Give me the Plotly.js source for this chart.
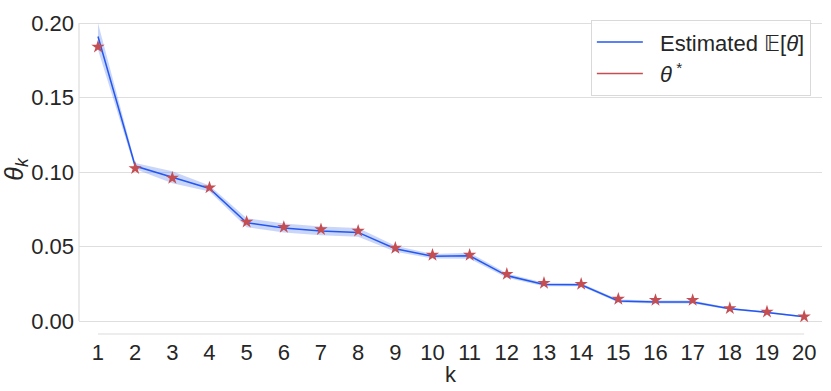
<!DOCTYPE html>
<html>
<head>
<meta charset="utf-8">
<script src="https://cdn.plot.ly/plotly-3.0.1.min.js"></script>
<style>
  html, body { margin: 0; padding: 0; background: #fff; }
  #grafico { width: 831px; height: 391px; }
</style>
</head>
<body>
<div id="grafico"></div>
<script>
// --- dados ---
const ks = [1, 2, 3, 4, 5, 6, 7, 8, 9, 10, 11, 12, 13, 14, 15, 16, 17, 18, 19, 20];
const mediaEstimada = [0.191, 0.104, 0.0965, 0.089, 0.066, 0.0625, 0.0605, 0.0595, 0.0485, 0.0435,
  0.0438, 0.0305, 0.0245, 0.0243, 0.0135, 0.0128, 0.0128, 0.0082, 0.0058, 0.0028];
const limiteInferior = [0.182, 0.102, 0.0925, 0.087, 0.063, 0.0595, 0.0575, 0.0565, 0.0465, 0.042,
  0.0418, 0.029, 0.0233, 0.0233, 0.0125, 0.0118, 0.0118, 0.0075, 0.0052, 0.0023];
const limiteSuperior = [0.200, 0.106, 0.1005, 0.091, 0.069, 0.0655, 0.0635, 0.0625, 0.0505, 0.045,
  0.0458, 0.032, 0.0257, 0.0253, 0.0145, 0.0138, 0.0138, 0.0089, 0.0064, 0.0033];
const thetaVerdadeiro = [0.184, 0.1025, 0.096, 0.0895, 0.0665, 0.063, 0.0615, 0.0605, 0.049, 0.0443,
  0.0443, 0.0315, 0.0255, 0.0248, 0.0148, 0.014, 0.014, 0.0085, 0.0062, 0.003];
const yTicks = [0, 0.05, 0.1, 0.15, 0.2];
const yTickText = ["0.00", "0.05", "0.10", "0.15", "0.20"];

const azul = "#2457f0";
const vermelho = "#c44e52";
const fonte = "'Liberation Sans', Arial, sans-serif";

const traceInferior = {
  x: ks, y: limiteInferior, type: "scatter", mode: "lines",
  line: { width: 0 }, showlegend: false, hoverinfo: "skip",
};

const traceSuperior = {
  x: ks, y: limiteSuperior, type: "scatter", mode: "lines",
  line: { width: 0 }, fill: "tonexty", fillcolor: "rgba(90, 130, 240, 0.33)",
  showlegend: false, hoverinfo: "skip",
};

const traceMedia = {
  x: ks, y: mediaEstimada, type: "scatter", mode: "lines",
  name: "  Estimated 𝔼[<i>θ</i>]",
  line: { color: azul, width: 1.5 },
};

const traceEstrelas = {
  x: ks, y: thetaVerdadeiro, type: "scatter", mode: "markers",
  marker: { symbol: "star", size: 10, color: vermelho, line: { width: 0 } },
  showlegend: false,
};

// entrada da legenda (linha vermelha)
const traceLegendaTheta = {
  x: [null], y: [null], type: "scatter", mode: "lines",
  name: "  <i>θ</i><sup> *</sup>",
  line: { color: vermelho, width: 1.5 },
};

const layout = {
  width: 831,
  height: 391,
  paper_bgcolor: "#fff",
  plot_bgcolor: "#fff",
  font: { family: fonte, color: "#262626", size: 22 },
  margin: { l: 79, r: 9, t: 5, b: 57 },
  showlegend: true,
  xaxis: {
    range: [0.489, 20.48],
    tickvals: ks,
    ticktext: ks.map(String),
    showgrid: false,
    zeroline: false,
    showline: false,
    ticks: "",
    ticklabelstandoff: 3,
    tickfont: { size: 22, color: "#262626" },
    title: { text: "k", font: { size: 22, color: "#262626" }, standoff: 2 },
  },
  yaxis: {
    range: [-0.0087, 0.2121],
    tickvals: yTicks,
    ticktext: yTickText,
    showgrid: true,
    gridcolor: "#dedede",
    gridwidth: 1,
    zeroline: false,
    showline: false,
    ticks: "",
    ticklabelstandoff: 4,
    tickfont: { size: 22, color: "#262626" },
    title: { text: "<i>θ</i><sub><i>k</i></sub>", font: { size: 25, color: "#262626" }, standoff: 2 },
  },
  shapes: [
    // eixos deslocados (estilo despine)
    { type: "line", xref: "paper", yref: "y", x0: 0, x1: 0, y0: 0, y1: 0.2,
      line: { color: "#dcdcdc", width: 1.2 } },
    { type: "line", xref: "x", yref: "paper", x0: 1, x1: 20, y0: 0, y1: 0,
      line: { color: "#dcdcdc", width: 1.2 } },
  ],
  legend: {
    x: 0.985, xanchor: "right",
    y: 0.954, yanchor: "top",
    traceorder: "normal",
    bgcolor: "rgba(255,255,255,0.9)",
    bordercolor: "#d9d9d9",
    borderwidth: 1,
    font: { size: 22, color: "#262626" },
    itemwidth: 46,
  },
};

Plotly.newPlot("grafico",
  [traceInferior, traceSuperior, traceMedia, traceEstrelas, traceLegendaTheta],
  layout, { displayModeBar: false, staticPlot: true });
</script>
</body>
</html>
